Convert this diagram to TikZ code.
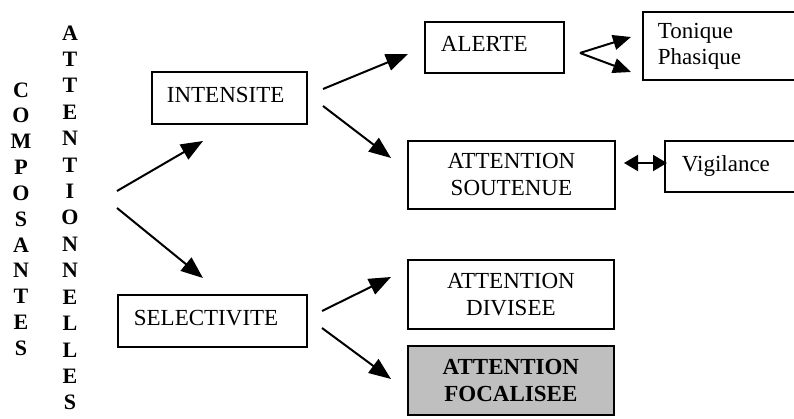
\documentclass[tikz,border=0pt]{standalone}
\usepackage{fontspec}
\setmainfont{Liberation Serif}
\usetikzlibrary{arrows.meta}
\tikzset{
  box/.style={draw, line width=1.8pt, anchor=north west, inner ysep=0pt, font=\fontsize{23}{27}\selectfont},
  lbox/.style={box, align=left},
  cbox/.style={box, align=center, inner xsep=0pt},
  letter/.style={font=\fontsize{22}{22}\selectfont\bfseries, inner sep=0pt},
  arr/.style={line width=2pt, -{Triangle[length=22pt,width=17pt]}},
  sarr/.style={line width=2pt, -{Triangle[length=18pt,width=15pt]}},
  darr/.style={line width=2pt, {Triangle[length=14pt,width=16pt]}-{Triangle[length=14pt,width=16pt]}},
}
\begin{document}
\begin{tikzpicture}[x=1pt,y=-1pt]
\useasboundingbox (0,0) rectangle (794,419);
\clip (0,0) rectangle (794,419);
% left vertical words
\foreach \l [count=\i] in {C,O,M,P,O,S,A,N,T,E,S}
  \node[letter] (c\i) at (21,{90+25.8*(\i-1)}) {\l};
\foreach \l [count=\i] in {A,T,T,E,N,T,I,O,N,N,E,L,L,E,S}
  \node[letter] (a\i) at (70,{33+26.4*(\i-1)}) {\l};
% boxes
\node[lbox, minimum width=155pt, minimum height=52pt, inner xsep=15pt, text width=125pt, text depth=7pt] (int) at (151,71) {INTENSITE};
\node[lbox, minimum width=139pt, minimum height=51pt, inner xsep=16pt, text width=107pt, text depth=7pt] (alerte) at (424,21) {ALERTE};
\node[lbox, minimum width=189pt, minimum height=52pt, inner xsep=16pt, text width=157pt, text depth=7pt] (sel) at (117,294) {SELECTIVITE};
\node[lbox, minimum width=170pt, minimum height=68pt, inner xsep=15pt, text width=140pt, font=\fontsize{23}{26}\selectfont] (tonph) at (642,11) {Tonique\\Phasique};
\node[lbox, minimum width=150pt, minimum height=51pt, inner xsep=17pt, text width=116pt] (vig) at (664,140) {Vigilance};
\node[cbox, minimum width=207pt, minimum height=68pt, text width=207pt] (sout) at (407,140) {ATTENTION\\SOUTENUE};
\node[cbox, minimum width=206pt, minimum height=69pt, text width=206pt] (div) at (407,259) {ATTENTION\\DIVISEE};
\node[cbox, fill=black!25, minimum width=206pt, minimum height=69pt, text width=206pt, font=\fontsize{23}{27}\selectfont\bfseries] (foc) at (407,345) {ATTENTION\\FOCALISEE};
% connector end points
\coordinate (s0a) at (117,191); \coordinate (s0b) at (117,208);
\coordinate (i0a) at (323,89);  \coordinate (i0b) at (323,106);
\coordinate (e0a) at (322,311); \coordinate (e0b) at (322,328);
\coordinate (t1) at (203,141);  \coordinate (t2) at (203,278);
\coordinate (t3) at (408,54);   \coordinate (t4) at (391,158);
\coordinate (t5) at (391,277);  \coordinate (t6) at (391,379);
\coordinate (al0) at (580,53);
\coordinate (t7) at (631,37);   \coordinate (t8) at (631,72);
\coordinate (d1) at (624,163);  \coordinate (d2) at (667,163);
% arrows
\draw[arr] (s0a) -- (t1);
\draw[arr] (s0b) -- (t2);
\draw[arr] (i0a) -- (t3);
\draw[arr] (i0b) -- (t4);
\draw[arr] (e0a) -- (t5);
\draw[arr] (e0b) -- (t6);
\draw[sarr] (al0) -- (t7);
\draw[sarr] (al0) -- (t8);
\draw[darr] (d1) -- (d2);
\end{tikzpicture}
\end{document}
